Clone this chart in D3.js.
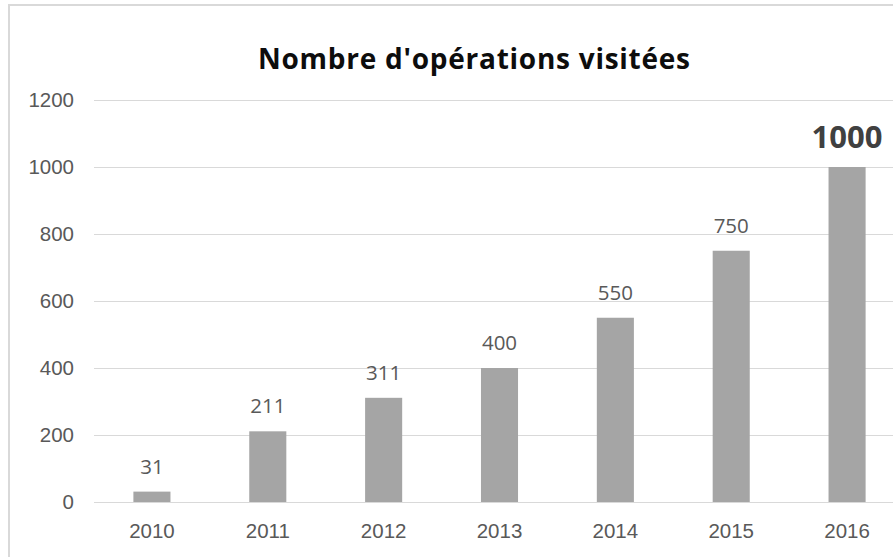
<!DOCTYPE html>
<html>
<head>
<meta charset="utf-8">
<script src="https://cdn.jsdelivr.net/npm/d3@7"></script>
<style>
  body { margin: 0; background: #fff; overflow: hidden; }
  svg { display: block; font-family: "Open Sans", "Noto Sans", sans-serif; }
</style>
</head>
<body>
<svg id="chart" width="893" height="557"></svg>
<script>
const years = ["2010", "2011", "2012", "2013", "2014", "2015", "2016"];
const visits = [31, 211, 311, 400, 550, 750, 1000];
const yTicks = [0, 200, 400, 600, 800, 1000, 1200];
const title = "Nombre d'opérations visitées";

const svg = d3.select("#chart");
const W = 893, H = 557;
const plot = {left: 94, right: 905, top: 100, bottom: 502};

// frame: only left and top edges are in view
svg.append("path")
    .attr("d", "M9," + H + "V5H" + W)
    .attr("fill", "none")
    .attr("stroke", "#d9d9d9")
    .attr("stroke-width", 2);

const x = d3.scaleBand()
    .domain(years)
    .range([plot.left, plot.right])
    .paddingInner(0.68)
    .paddingOuter(0.34);

const y = d3.scaleLinear()
    .domain([0, 1200])
    .range([plot.bottom, plot.top]);

// gridlines + y labels
const yAxis = d3.axisLeft(y)
    .tickValues(yTicks)
    .tickSize(-(plot.right - plot.left))
    .tickPadding(20)
    .tickFormat(d3.format("d"));

const gy = svg.append("g")
    .attr("transform", "translate(" + plot.left + ",0)")
    .call(yAxis);
gy.select(".domain").remove();
gy.selectAll(".tick line").attr("stroke", "#d9d9d9").attr("stroke-width", 1);
gy.selectAll(".tick text")
    .attr("fill", "#595959")
    .attr("font-size", 20.5);

// bars
svg.append("g").selectAll("rect")
    .data(visits)
    .join("rect")
    .attr("x", (d, i) => x(years[i]))
    .attr("y", d => y(d))
    .attr("width", x.bandwidth())
    .attr("height", d => y(0) - y(d))
    .attr("fill", "#a5a5a5");

// baseline
svg.append("line")
    .attr("x1", plot.left).attr("x2", plot.right)
    .attr("y1", y(0) + 0.5).attr("y2", y(0) + 0.5)
    .attr("stroke", "#d9d9d9");

// x labels
const xAxis = d3.axisBottom(x).tickSize(0).tickPadding(21);
const gx = svg.append("g")
    .attr("transform", "translate(0," + plot.bottom + ")")
    .call(xAxis);
gx.select(".domain").remove();
gx.selectAll(".tick text")
    .attr("fill", "#595959")
    .attr("font-size", 20.5);

// value labels, last one emphasised
const last = visits.length - 1;
svg.append("g").selectAll("text")
    .data(visits)
    .join("text")
    .attr("x", (d, i) => x(years[i]) + x.bandwidth() / 2)
    .attr("y", (d, i) => y(d) - (i === last ? 19 : 18))
    .attr("text-anchor", "middle")
    .attr("fill", (d, i) => i === last ? "#404040" : "#595959")
    .attr("font-size", (d, i) => i === last ? 31 : 20.5)
    .attr("font-weight", (d, i) => i === last ? "bold" : "normal")
    .text(d => d);

// title
svg.append("text")
    .attr("x", 474)
    .attr("y", 69)
    .attr("text-anchor", "middle")
    .attr("font-size", 28)
    .attr("font-weight", "bold")
    .attr("textLength", 432)
    .attr("lengthAdjust", "spacing")
    .attr("fill", "#0d0d0d")
    .text(title);
</script>
</body>
</html>
